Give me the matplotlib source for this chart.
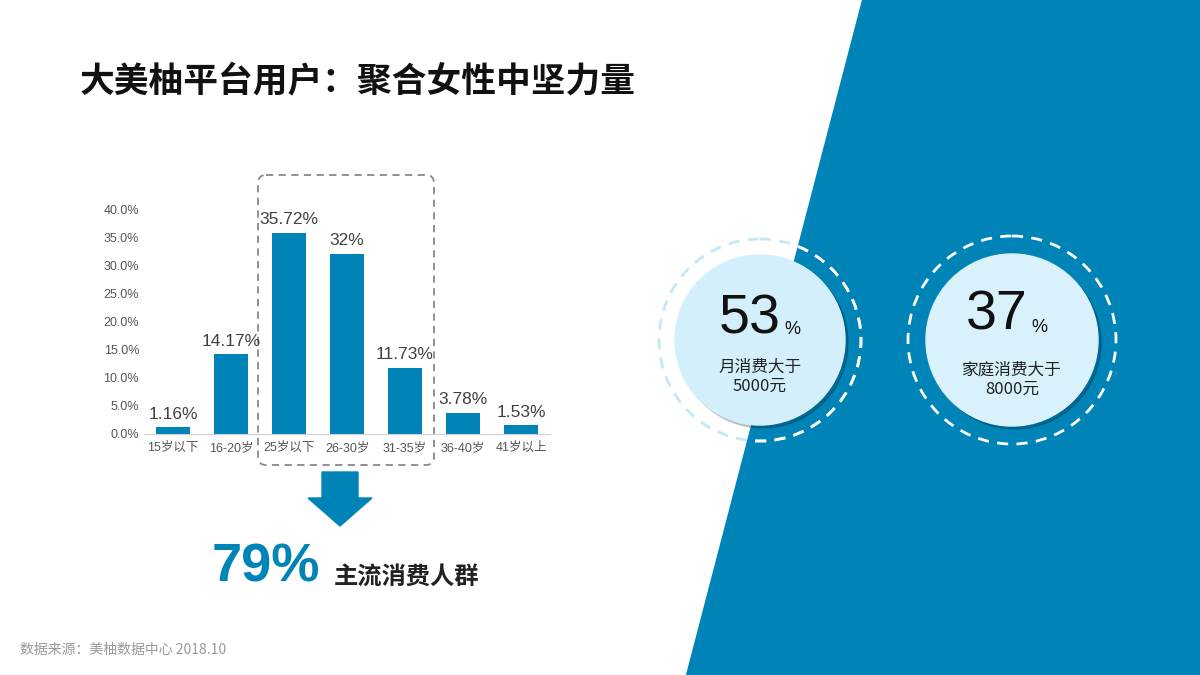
import matplotlib
matplotlib.use("Agg")
import matplotlib.pyplot as plt
from matplotlib.patches import Polygon, Circle, FancyBboxPatch
from matplotlib.ticker import PercentFormatter

plt.rcParams['font.family'] = ['Noto Sans CJK SC', 'DejaVu Sans']
LAT = ['Liberation Sans', 'Noto Sans CJK SC']

categories = ['15岁以下', '16-20岁', '25岁以下', '26-30岁', '31-35岁', '36-40岁', '41岁以上']
values = [1.16, 14.17, 35.72, 32, 11.73, 3.78, 1.53]
labels = ['1.16%', '14.17%', '35.72%', '32%', '11.73%', '3.78%', '1.53%']
yticks = [0, 5, 10, 15, 20, 25, 30, 35, 40]

BLUE = '#0083b7'
W, H = 1200, 675
fig = plt.figure(figsize=(12, 6.75), dpi=100)

ov = fig.add_axes([0, 0, 1, 1])
ov.set_xlim(0, W); ov.set_ylim(H, 0); ov.axis('off')
bg = Polygon([(862, 0), (W, 0), (W, H), (686, H)], closed=True, color=BLUE, zorder=0)
ov.add_patch(bg)

ov.add_patch(Circle((760, 340), 101, fill=False, ec='#c5e8f6', lw=2, ls=(0, (4, 3)), zorder=1.5))
for cx, r_in, r_out, fill in [(760, 85, 101, '#d2effb'), (1012, 86, 104, '#d8f1fb')]:
    ov.add_patch(Circle((cx + 3, 343), r_in, color='#00000030', zorder=1))
    ov.add_patch(Circle((cx, 340), r_in, color=fill, zorder=2))
    ring = Circle((cx, 340), r_out, fill=False, ec='white', lw=2, ls=(0, (4, 3)), zorder=1.8)
    ov.add_patch(ring)
    ring.set_clip_path(bg)

ov.text(781, 320, '53', fontsize=40, ha='right', va='center', color='#111111', zorder=3, family=LAT)
ov.text(784, 330, '%', fontsize=13, ha='left', va='center', color='#111111', zorder=3, family=LAT)
ov.text(760, 377, '月消费大于\n5000元', fontsize=12, ha='center', va='center', linespacing=1.15, color='#222222', zorder=3)
ov.text(1028, 316, '37', fontsize=40, ha='right', va='center', color='#111111', zorder=3, family=LAT)
ov.text(1031, 327, '%', fontsize=13, ha='left', va='center', color='#111111', zorder=3, family=LAT)
ov.text(1012, 380, '家庭消费大于\n8000元', fontsize=12, ha='center', va='center', linespacing=1.15, color='#222222', zorder=3)

ov.text(80, 82, '大美柚平台用户：聚合女性中坚力量', fontsize=25, fontweight='bold', va='center', ha='left', color='#111111')
ov.text(20, 650, '数据来源：美柚数据中心 2018.10', fontsize=10, va='center', ha='left', color='#999999')

ov.add_patch(FancyBboxPatch((258, 175), 176, 290, boxstyle='round,pad=0,rounding_size=8',
                            fill=False, ec='#888888', lw=1.3, ls=(0, (4, 3))))
ov.add_patch(Polygon([(322, 472), (358, 472), (358, 498), (372, 498), (340, 526), (308, 498), (322, 498)],
                     closed=True, color=BLUE))
ov.text(212, 568, '79%', fontsize=39, fontweight='bold', color=BLUE, va='center', ha='left', family=LAT)
ov.text(334, 577, '主流消费人群', fontsize=17.5, fontweight='bold', color='#222222', va='center', ha='left')

ax = fig.add_axes([144 / W, (H - 434) / H, 406 / W, 225 / H])
ax.patch.set_alpha(0)
x = range(len(values))
ax.bar(x, values, width=0.58, color=BLUE, zorder=2)
for i, (v, l) in enumerate(zip(values, labels)):
    ax.text(i, v + 1.0, l, ha='center', va='bottom', fontsize=12.5, color='#404040', family=LAT)
ax.set_xlim(-0.5, 6.5); ax.set_ylim(0, 40)
ax.set_yticks(yticks)
ax.yaxis.set_major_formatter(PercentFormatter(decimals=1))
ax.set_xticks(list(x)); ax.set_xticklabels(categories)
for t in ax.get_xticklabels() + ax.get_yticklabels():
    t.set_family(LAT)
ax.tick_params(axis='both', length=0, colors='#555555', labelsize=9)
ax.tick_params(axis='x', pad=6)
for s in ['top', 'right', 'left']:
    ax.spines[s].set_visible(False)
ax.spines['bottom'].set_color('#d0d0d0')

fig.savefig('out.png', dpi=100)
